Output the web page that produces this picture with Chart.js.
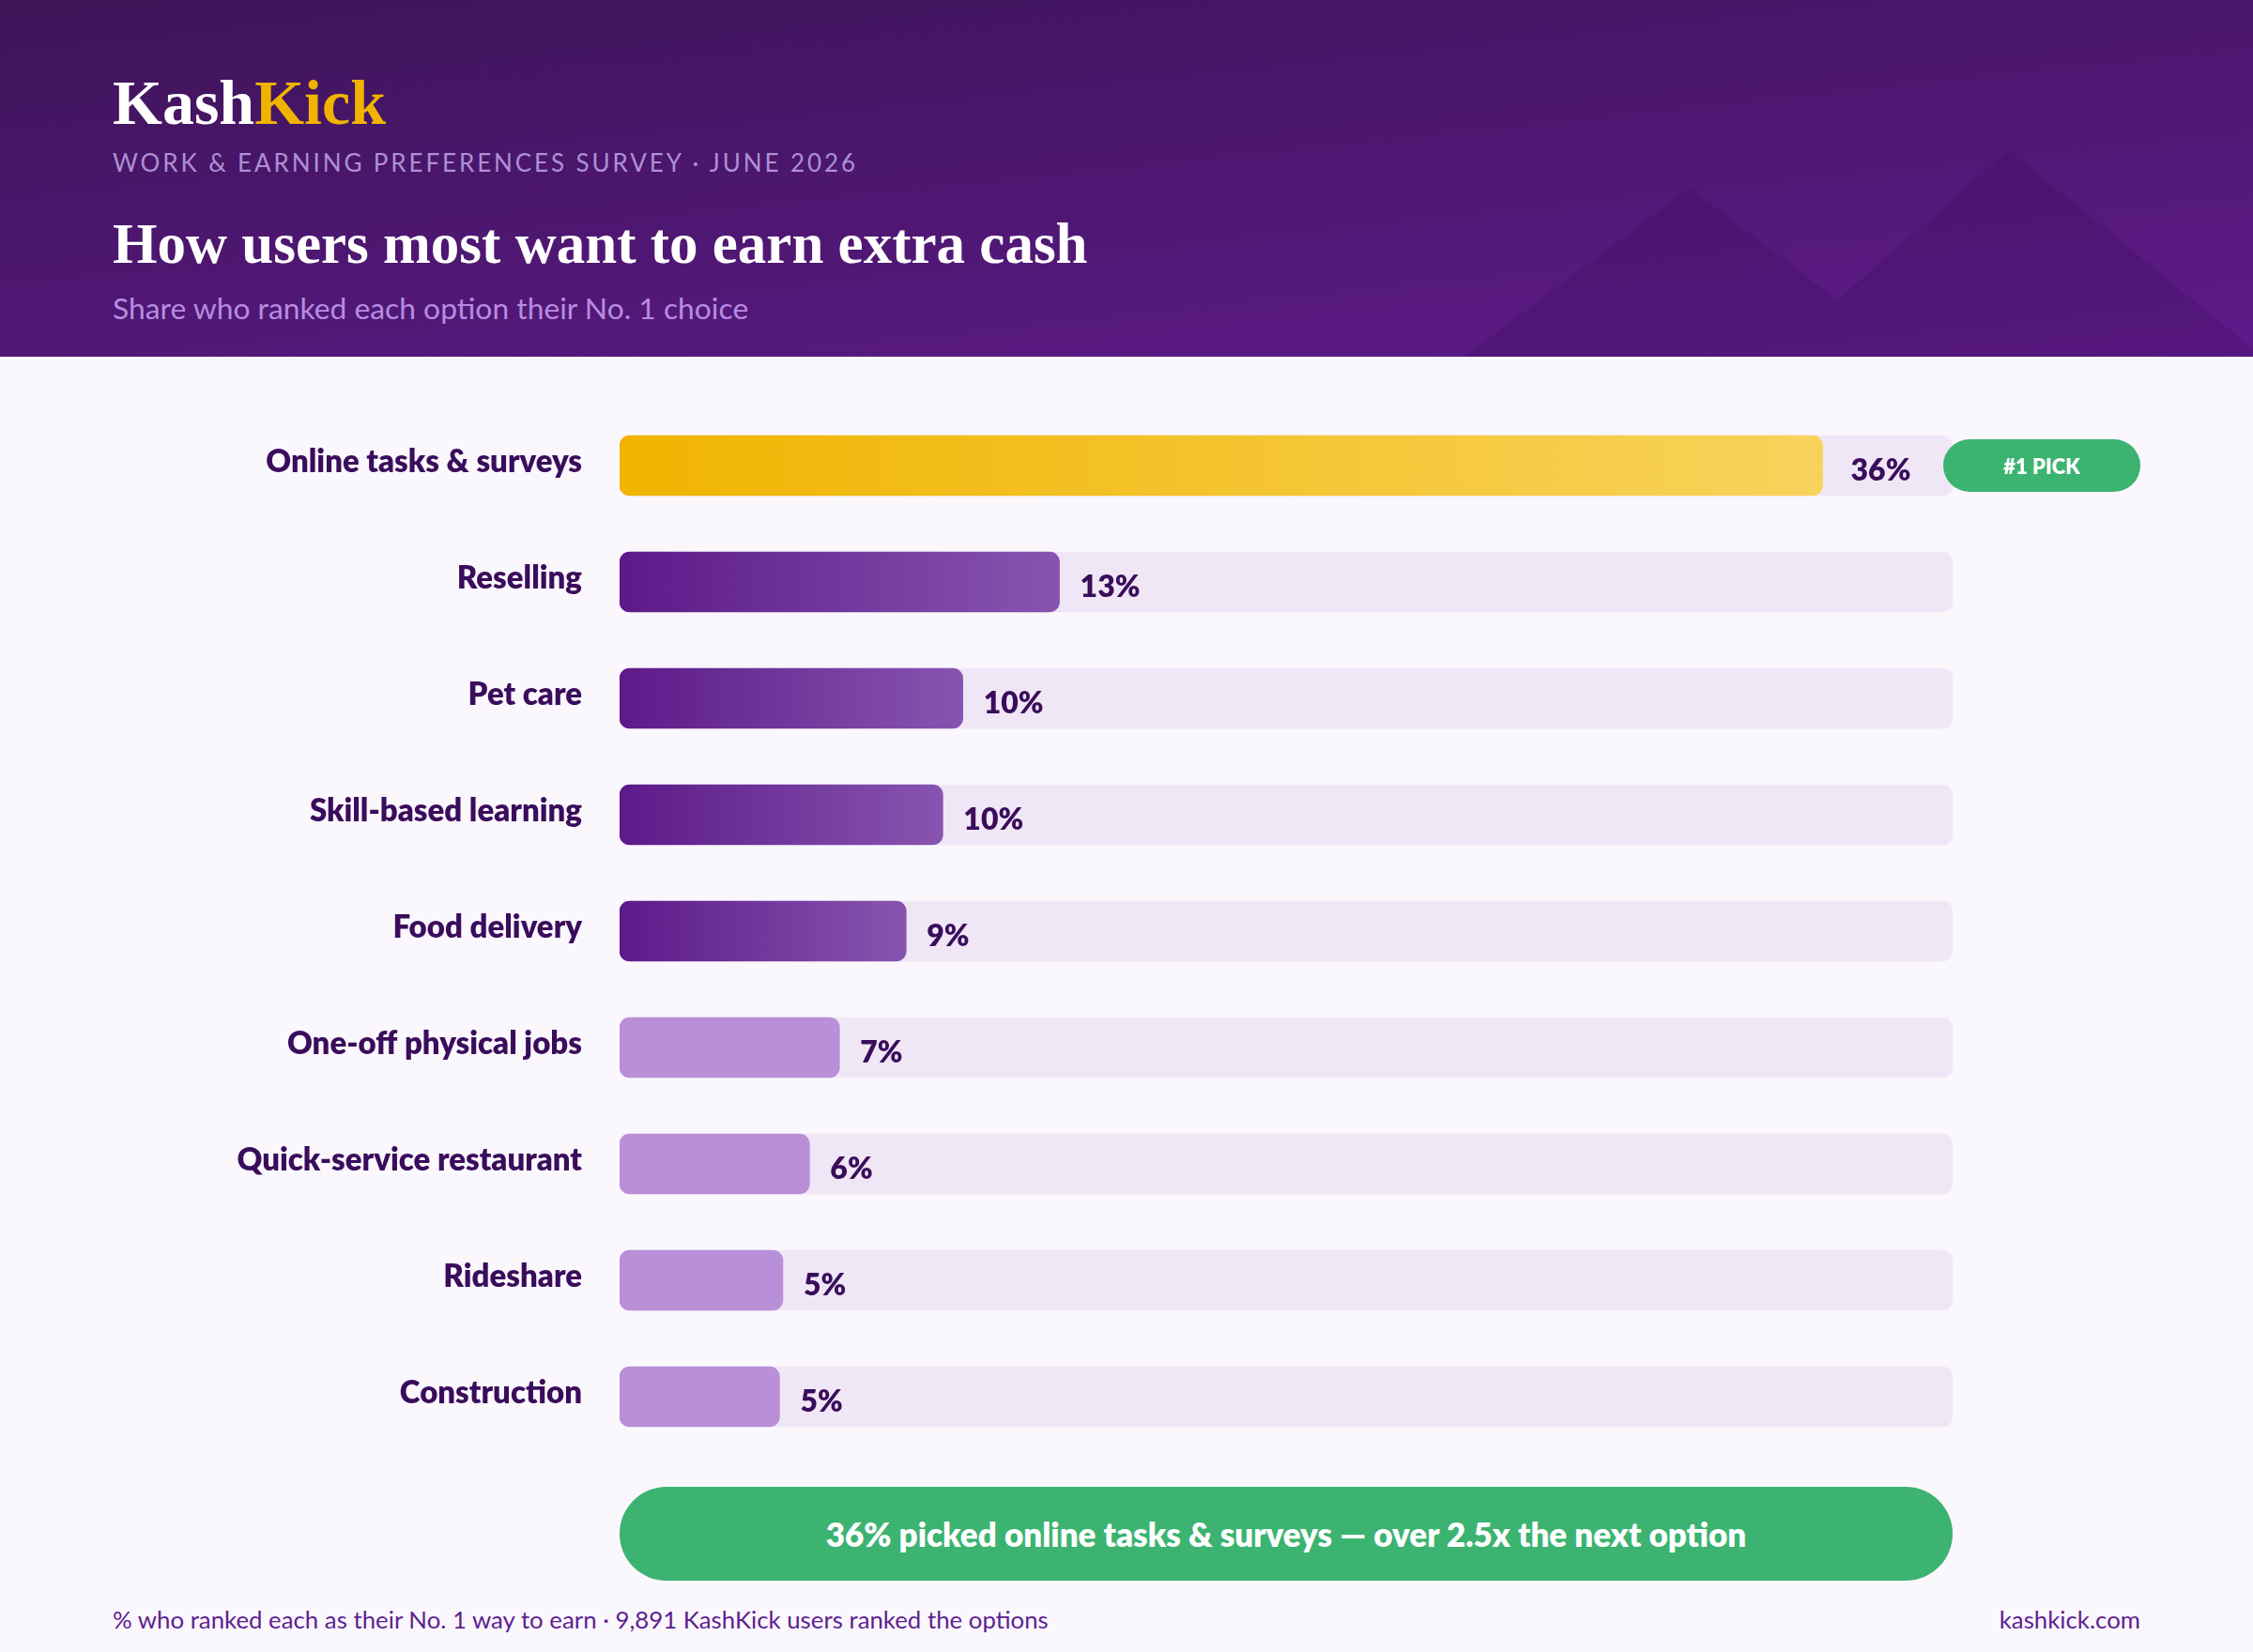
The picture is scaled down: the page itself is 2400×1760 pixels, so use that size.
<!DOCTYPE html>
<html><head><meta charset="utf-8">
<script src="https://cdn.jsdelivr.net/npm/chart.js@4.4.1/dist/chart.umd.min.js"></script>
<style>
html,body{margin:0;padding:0;}
body{width:2400px;height:1760px;background:#faf7fd;position:relative;overflow:hidden;font-family:Lato,sans-serif;}
#header{position:absolute;left:0;top:0;width:2400px;height:380px;background:linear-gradient(174deg,#3e1458 0%,#5e1a8a 100%);overflow:hidden;}
#header svg{position:absolute;left:0;top:0;}
.t{position:absolute;left:120px;white-space:nowrap;line-height:1;}
#logo{top:75px;font-family:'Liberation Serif',serif;font-weight:700;font-size:68px;color:#fff;}
#logo span{color:#f0b400;}
#kicker{top:160px;font-size:26px;letter-spacing:2.9px;color:#ad90d6;}
#title{top:229px;font-family:'Liberation Serif',serif;font-weight:700;font-size:61px;color:#fff;}
#sub{top:313px;font-size:31.8px;color:#b88ce0;}
#chartbox{position:absolute;left:0;top:380px;width:2400px;height:1200px;}
#c{display:block;}
#callout{position:absolute;left:660px;top:1584px;width:1420px;height:100px;border-radius:50px;background:#3cb371;color:#fff;font-weight:800;font-size:35px;display:flex;align-items:center;justify-content:center;white-space:nowrap;}
.foot{position:absolute;top:1712.5px;font-size:25.8px;color:#5e1f91;line-height:1;white-space:nowrap;}
</style></head>
<body>
<div id="header">
  <svg width="2400" height="380" viewBox="0 0 2400 380">
    <polygon points="1560,380 1800,200 1957,320 2140,160 2410,380" fill="#2a0845" fill-opacity="0.15"/>
  </svg>
  <div class="t" id="logo">Kash<span>Kick</span></div>
  <div class="t" id="kicker">WORK &amp; EARNING PREFERENCES SURVEY · JUNE 2026</div>
  <div class="t" id="title">How users most want to earn extra cash</div>
  <div class="t" id="sub">Share who ranked each option their No. 1 choice</div>
</div>
<div id="chartbox"><canvas id="c" width="2400" height="1200"></canvas></div>
<div id="callout">36% picked online tasks &amp; surveys — over 2.5x the next option</div>
<div class="foot" style="left:120px;">% who ranked each as their No. 1 way to earn · 9,891 KashKick users ranked the options</div>
<div class="foot" style="right:120px;">kashkick.com</div>
<script>
// ---- data ----
const categories = ['Online tasks & surveys','Reselling','Pet care','Skill-based learning','Food delivery','One-off physical jobs','Quick-service restaurant','Rideshare','Construction'];
const shares = [36.1, 13.2, 10.3, 9.7, 8.6, 6.6, 5.7, 4.9, 4.8];
const valueLabels = ['36%','13%','10%','10%','9%','7%','6%','5%','5%'];
const axisMax = 40;
const badgeText = '#1 PICK';

// ---- styling ----
function barFill(ctx){
  const chart = ctx.chart, area = chart.chartArea;
  const light = '#b98fd8';
  if (ctx.type !== 'data') return light;
  const i = ctx.dataIndex, v = ctx.raw;
  let stops;
  if (i === 0) stops = ['#f0b400','#f8d35c'];
  else if (i < 5) stops = ['#5c1a89','#8854b0'];
  else return light;
  if (!area) return stops[0];
  const xs = chart.scales.x;
  const x0 = xs.getPixelForValue(0), x1 = xs.getPixelForValue(v);
  const g = chart.ctx.createLinearGradient(x0,0,x1,0);
  g.addColorStop(0,stops[0]); g.addColorStop(1,stops[1]);
  return g;
}

const valuePlugin = {
  id:'values',
  afterDatasetsDraw(chart){
    const c = chart.ctx; const meta = chart.getDatasetMeta(0);
    c.save();
    c.font = '800 32px Lato'; c.fillStyle = '#3a0d5c';
    c.textBaseline = 'alphabetic'; c.textAlign = 'left';
    meta.data.forEach((bar,i)=>{
      const gap = i === 0 ? 30 : 22;
      c.fillText(valueLabels[i], bar.x + gap, bar.y + 16);
    });
    const top = meta.data[0];
    const bx = chart.chartArea.right - 10, bw = 210, bh = 56;
    c.beginPath();
    c.roundRect(bx, top.y - bh/2, bw, bh, bh/2);
    c.fillStyle = '#3cb371'; c.fill();
    c.font = '800 22px Lato'; c.fillStyle = '#ffffff'; c.textAlign = 'center';
    c.fillText(badgeText, bx + bw/2, top.y + 9);
    c.restore();
  }
};

const layoutPadding = {top:54, bottom:30, left:0, right:320};
const chart = new Chart(document.getElementById('c'), {
  type:'bar',
  data:{
    labels:categories,
    datasets:[
      {label:'Share', data:shares, order:0, grouped:false, barThickness:64, borderRadius:11, borderSkipped:false, backgroundColor:barFill},
      {label:'Track', data:categories.map(()=>axisMax), order:1, grouped:false, barThickness:64, borderRadius:11, borderSkipped:false, backgroundColor:'#f0e7f6'}
    ]
  },
  options:{
    indexAxis:'y', responsive:false, animation:false, events:[],
    devicePixelRatio:1,
    layout:{padding:layoutPadding},
    plugins:{legend:{display:false}, tooltip:{enabled:false}},
    scales:{
      x:{min:0, max:axisMax, display:false, ticks:{display:false}, grid:{display:false, drawTicks:false},
         afterFit:(s)=>{ s.height = 0; }},
      y:{grid:{display:false, drawTicks:false}, border:{display:false},
         ticks:{padding:40, color:'#3a0d5c', font:{family:'Lato', weight:'800', size:33}, labelOffset:-4},
         afterFit:(s)=>{ s.width = 660; s.paddingTop = 0; s.paddingBottom = 0; }}
    }
  },
  plugins:[valuePlugin]
});
// keep the category band on rows 54..1170 of the canvas
const ys = chart.scales.y;
const dTop = 54 - ys.top, dBottom = ys.bottom - 1170;
if (Math.abs(dTop) > 0.5 || Math.abs(dBottom) > 0.5) {
  layoutPadding.top += dTop;
  layoutPadding.bottom += dBottom;
  chart.update();
}
</script>
</body></html>
